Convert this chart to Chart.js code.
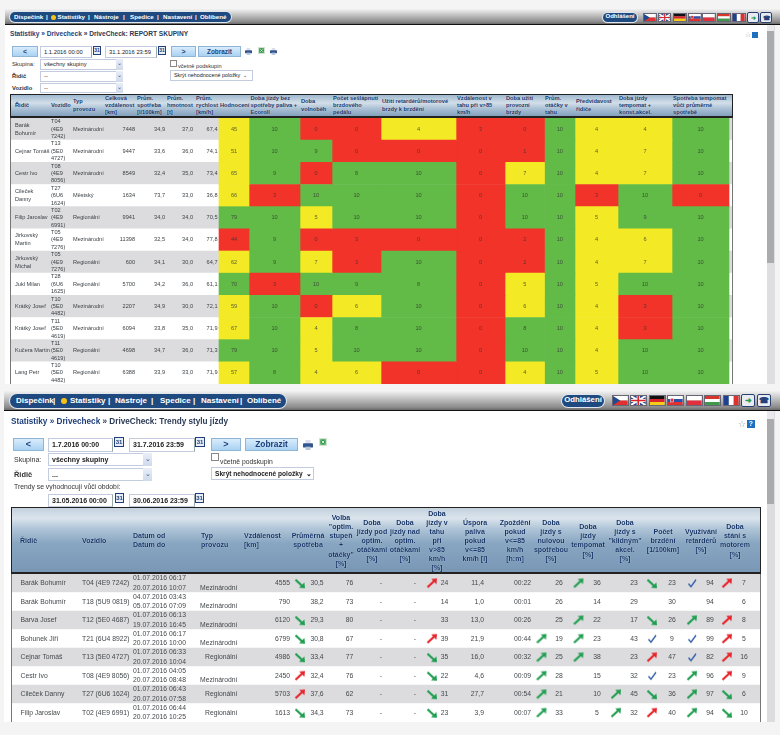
<!DOCTYPE html>
<html lang="cs">
<head>
<meta charset="utf-8">
<title>DriveCheck</title>
<script src="https://cdn.jsdelivr.net/npm/chart.js@4"></script>
<style>
  html, body { margin: 0; padding: 0; background: #f4f4f4; }
  #page { position: relative; width: 780px; height: 735px; overflow: hidden; font-family: "Liberation Sans", sans-serif; filter: blur(0.25px); }
  #page > * { position: absolute; box-sizing: border-box; white-space: pre; }
  canvas { position: absolute; }
  .panel { background: #fff; }
  .bar { background: linear-gradient(#f2f2f2 0, #c8c8c8 35%, #8c8c8c 85%, #6a6a6a 100%); border-bottom: 1px solid #111; }
  .pill { background: #1f4a80; border-radius: 8px; box-shadow: 0 0 0 1px #dfe6ee; }
  .nav { color: #fff; font-weight: bold; }
  .btn { background: linear-gradient(#d9ecfb, #a9d2f3); border: 1px solid #8fb4d4; color: #1f3f7a; font-weight: bold; text-align: center; }
  .input { background: #fff; border: 1px solid #c3cbe0; border-right-color: #9aa; color: #222; font-weight: bold; padding-left: 3px; }
  .select { background: #fff; border: 1px solid #c3cbe0; color: #222; padding-left: 3px; }
  .arrow { background: linear-gradient(#e9eef7, #cfd9ea); color: #33558a; text-align: center; }
  .cal { background: #e8eef8; border: 1px solid #24407a; color: #24407a; font-weight: bold; text-align: center; }
  .label { color: #333; }
  .crumb { color: #2b3a55; font-weight: bold; }
  .head { background: linear-gradient(#9fb8ce 0, #d3dfe9 38%, #aec3d7 62%, #83a1bd 100%); border: 1px solid #222; border-width: 1px 1px 2px 1px; }
  .head2 { background: linear-gradient(#c3d1de 0, #dbe4ec 16%, #b0c5d8 32%, #88a6c1 55%, #7998b6 100%); border: 1px solid #222; border-width: 1px 1px 2px 1px; }
  .hcell { color: #143468; font-weight: bold; text-shadow: 0 0 1px rgba(255,255,255,0.7); }
  .vline { background: #777; width: 1px; }
</style>
</head>
<body>
<div id="page"></div>
<script>
// ===== DATA: REPORT SKUPINY =====
const topDrivers = ["Barák\nBohumír", "Cejnar Tomáš", "Cestr Ivo", "Cileček\nDanny", "Filip Jaroslav", "Jirkovský\nMartin", "Jirkovský\nMichal", "Jukl Milan", "Krátký Josef", "Krátký Josef", "Kučera Martin", "Lang Petr"];
const topVehicles = ["T04\n(4E9\n7242)", "T13\n(5E0\n4727)", "T08\n(4E9\n8056)", "T27\n(6U6\n1624)", "T02\n(4E9\n6991)", "T05\n(4E9\n7276)", "T05\n(4E9\n7276)", "T28\n(6U6\n1625)", "T10\n(5E0\n4482)", "T11\n(5E0\n4619)", "T11\n(5E0\n4619)", "T10\n(5E0\n4482)"];
const topTypes = ["Mezinárodní", "Mezinárodní", "Mezinárodní", "Městský", "Regionální", "Mezinárodní", "Regionální", "Regionální", "Mezinárodní", "Mezinárodní", "Regionální", "Regionální"];
const topDistance = ["7448", "9447", "8549", "1634", "9941", "11398", "600", "5700", "2207", "6094", "4698", "6388"];
const topConsumption = ["34,9", "33,6", "32,4", "73,7", "34,0", "32,5", "34,1", "34,2", "34,9", "33,8", "34,7", "33,9"];
const topWeight = ["37,0", "36,0", "35,0", "33,0", "34,0", "34,0", "30,0", "36,0", "30,0", "35,0", "36,0", "33,0"];
const topSpeed = ["67,4", "74,1", "73,4", "36,8", "70,5", "77,8", "64,7", "61,1", "72,1", "71,9", "71,3", "71,9"];

const scoreRating = [45, 51, 65, 66, 79, 44, 62, 70, 59, 67, 79, 57];
const scoreEcoroll = [10, 10, 9, 3, 10, 9, 9, 3, 10, 10, 10, 8];
const scoreIdle = [0, 9, 0, 10, 5, 0, 7, 10, 0, 4, 5, 4];
const scorePedal = [0, 0, 8, 10, 10, 3, 3, 9, 6, 8, 10, 6];
const scoreRetarder = [4, 0, 10, 10, 10, 0, 10, 8, 10, 10, 10, 0];
const scoreDistance = [3, 0, 0, 0, 0, 0, 0, 0, 0, 0, 0, 0];
const scoreBrakes = [0, 1, 7, 10, 10, 2, 2, 5, 6, 8, 10, 4];
const scoreRpm = [10, 10, 10, 10, 10, 10, 10, 10, 10, 10, 10, 10];
const scoreForesight = [4, 4, 4, 3, 5, 4, 4, 5, 4, 4, 4, 5];
const scoreCruise = [4, 7, 7, 10, 9, 6, 7, 10, 3, 3, 10, 10];
const scoreCruiseFuel = [10, 10, 10, 0, 10, 10, 10, 10, 10, 10, 10, 10];

const topHeaders = ["Řidič", "Vozidlo", "Typ\nprovozu", "Celková\nvzdálenost\n[km]", "Prům.\nspotřeba\n[l/100km]", "Prům.\nhmotnost\n[t]", "Prům.\nrychlost\n[km/h]", "Hodnocení", "Doba jízdy bez\nspotřeby paliva +\nEcoroll", "Doba\nvolnoběh", "Počet sešlápnutí\nbrzdového\npedálu", "Užití retardérů/motorové\nbrzdy k brzdění", "Vzdálenost v\ntahu při v>85\nkm/h", "Doba užití\nprovozní\nbrzdy", "Prům.\notáčky v\ntahu", "Předvídavost\nřidiče", "Doba jízdy\ntempomat +\nkonst.akcel.", "Spotřeba tempomat\nvůči průměrné\nspotřebě"];

// ===== DATA: TRENDY STYLU JIZDY =====
const trendDrivers = ["Barák Bohumír", "Barák Bohumír", "Barva Josef", "Bohunek Jiří", "Cejnar Tomáš", "Cestr Ivo", "Cileček Danny", "Filip Jaroslav"];
const trendVehicles = ["T04 (4E9 7242)", "T18 (5U9 0819)", "T12 (5E0 4687)", "T21 (6U4 8922)", "T13 (5E0 4727)", "T08 (4E9 8056)", "T27 (6U6 1624)", "T02 (4E9 6991)"];
const trendDates = ["01.07.2016 06:17\n20.07.2016 10:07", "04.07.2016 03:43\n05.07.2016 07:09", "01.07.2016 06:13\n19.07.2016 16:45", "01.07.2016 06:17\n20.07.2016 10:00", "01.07.2016 06:33\n20.07.2016 10:04", "01.07.2016 04:05\n20.07.2016 08:48", "01.07.2016 06:43\n20.07.2016 07:58", "01.07.2016 06:44\n20.07.2016 10:25"];
const trendTypes = ["\nMezinárodní", "\nMezinárodní", "\nMezinárodní", "\nMezinárodní", "Regionální", "\nMezinárodní", "Regionální", "Regionální"];
const trendDistance = ["4555", "790", "6120", "6799", "4986", "2450", "5703", "1613"];
const trendConsumption = ["30,5", "38,2", "29,3", "30,8", "33,4", "32,4", "37,6", "34,3"];
const trendOptimal = ["76", "73", "80", "67", "77", "76", "62", "73"];
const trendBelow = ["-", "-", "-", "-", "-", "-", "-", "-"];
const trendAbove = ["-", "-", "-", "-", "-", "-", "-", "-"];
const trendOver85 = ["24", "14", "33", "39", "35", "22", "31", "23"];
const trendSaving = ["11,4", "1,0", "13,0", "21,9", "16,0", "4,6", "27,7", "3,9"];
const trendDelay = ["00:22", "00:01", "00:26", "00:44", "00:32", "00:09", "00:54", "00:07"];
const trendZeroFuel = ["26", "26", "25", "19", "25", "28", "21", "33"];
const trendCruise = ["36", "14", "22", "23", "38", "15", "10", "5"];
const trendCalm = ["23", "29", "17", "43", "23", "32", "45", "32"];
const trendBraking = ["23", "30", "26", "9", "47", "23", "36", "40"];
const trendRetarder = ["94", "94", "89", "99", "82", "96", "97", "94"];
const trendStanding = ["7", "6", "8", "5", "16", "9", "6", "10"];

// trend marks: d = falling green, u = rising red, g = rising green, c = blue tick, "" = none
const marksConsumption = ["d", "", "d", "d", "d", "u", "u", "d"];
const marksOver85 = ["u", "", "", "u", "d", "d", "d", "d"];
const marksZeroFuel = ["", "", "", "g", "g", "g", "g", "g"];
const marksCruise = ["g", "", "g", "g", "g", "", "", ""];
const marksCalm = ["", "", "", "", "", "", "g", "g"];
const marksBraking = ["d", "", "d", "c", "u", "c", "d", "u"];
const marksRetarder = ["c", "", "g", "c", "c", "g", "g", "g"];
const marksStanding = ["u", "", "u", "u", "u", "u", "d", "d"];

const trendHeaders = ["Řidič", "Vozidlo", "Datum od\nDatum do", "Typ\nprovozu", "Vzdálenost\n[km]", "Průměrná\nspotřeba", "Volba\n\"optim.\nstupeň\n+\notáčky\"\n[%]", "Doba\njízdy pod\noptim.\notáčkami\n[%]", "Doba\njízdy nad\noptim.\notáčkami\n[%]", "Doba\njízdy v\ntahu\npři\nv>85\nkm/h\n[%]", "Úspora\npaliva\npokud\nv<=85\nkm/h [l]", "Zpoždění\npokud\nv<=85\nkm/h\n[h:m]", "Doba\njízdy s\nnulovou\nspotřebou\n[%]", "Doba\njízdy\ntempomat\n[%]", "Doba\njízdy s\n\"klidným\"\nakcel.\n[%]", "Počet\nbrzdění\n[1/100km]", "Využívání\nretardérů\n[%]", "Doba\nstání s\nmotorem\n[%]"];

// ===== LAYOUT (page pixels) =====
const topEdges = [10, 50, 72, 104, 136, 166, 195, 219, 249, 300, 332, 381, 456, 505, 544.5, 575, 618, 672, 729, 733];
const TOP_FONT = '5.6px "Liberation Sans"';
const TREND_FONT = '6.8px "Liberation Sans"';
const RED = "#f2332a", YELLOW = "#f3ea25", GREEN = "#62bb47";
const page = document.getElementById("page");

// ===== UTILITY FUNCTIONS =====
function put(cls, x, y, w, h, text, style) {
  const d = document.createElement("div");
  d.className = cls;
  d.style.left = x + "px";
  d.style.top = y + "px";
  if (w != null) d.style.width = w + "px";
  if (h != null) { d.style.height = h + "px"; d.style.lineHeight = (h - 2) + "px"; }
  if (text) d.textContent = text;
  if (style) d.style.cssText += style;
  page.appendChild(d);
  return d;
}

function svg(x, y, w, h, inner, view, frame) {
  const d = put("", x, y, w, h);
  const border = frame === false ? "" : "border:1px solid #667;box-sizing:border-box";
  d.innerHTML = `<svg width="${w}" height="${h}" viewBox="${view || "0 0 18 12"}" preserveAspectRatio="none" style="display:block;${border}">${inner}</svg>`;
}

const FLAGS = [
  '<rect width="18" height="6" fill="#fff"/><rect y="6" width="18" height="6" fill="#e03030"/><path d="M0 0L9 6L0 12Z" fill="#1f4a90"/>',
  '<rect width="18" height="12" fill="#2a4a90"/><path d="M0 0L18 12M18 0L0 12" stroke="#fff" stroke-width="2.5"/><path d="M9 0V12M0 6H18" stroke="#fff" stroke-width="4"/><path d="M9 0V12M0 6H18" stroke="#d8242a" stroke-width="2"/>',
  '<rect width="18" height="4" fill="#111"/><rect y="4" width="18" height="4" fill="#d8242a"/><rect y="8" width="18" height="4" fill="#f5cc1a"/>',
  '<rect width="18" height="4" fill="#fff"/><rect y="4" width="18" height="4" fill="#2a50a8"/><rect y="8" width="18" height="4" fill="#e03030"/><rect x="3" y="3" width="4" height="5" fill="#e03030" stroke="#fff" stroke-width=".6"/>',
  '<rect width="18" height="6" fill="#fff"/><rect y="6" width="18" height="6" fill="#e03040"/>',
  '<rect width="18" height="4" fill="#d8362a"/><rect y="4" width="18" height="4" fill="#fff"/><rect y="8" width="18" height="4" fill="#3e9a4a"/>',
  '<rect width="6" height="12" fill="#1f3f90"/><rect x="6" width="6" height="12" fill="#fff"/><rect x="12" width="6" height="12" fill="#e03030"/>'
];
const PRINT_ICON = '<rect x="3" y="0" width="6" height="4" fill="#dde"/><rect x="0" y="4" width="12" height="5" rx="1" fill="#33558f"/><rect x="3" y="8" width="6" height="4" fill="#b8c6dc"/>';
const EXCEL_ICON = '<rect width="12" height="12" fill="#cfe3cf"/><rect x="2" y="2" width="8" height="8" fill="#2f9a4a"/><path d="M4 4L8 8M8 4L4 8" stroke="#fff" stroke-width="1.2"/>';

function navBar(cfg) {
  put("bar", cfg.left, cfg.top, 780 - cfg.left, cfg.bottom - cfg.top);
  put("pill", cfg.pill[0], cfg.pill[1], cfg.pill[2], cfg.pill[3]);
  cfg.items.forEach(([text, x]) => put("nav", x, cfg.textY, null, null, text, `font-size:${cfg.size}px;line-height:${cfg.size + 2}px;`));
  put("", cfg.dot[0], cfg.dot[1], cfg.dot[2], cfg.dot[2], "", "background:#f6c21a;border-radius:50%;");
  put("pill", cfg.logout[0], cfg.logout[1], cfg.logout[2], cfg.logout[3], "Odhlášení", `color:#fff;font-weight:bold;text-align:center;font-size:${cfg.size - 0.2}px;`);
  cfg.flags.forEach((x, i) => svg(x, cfg.flagY, cfg.flagW, cfg.flagH, FLAGS[i]));
  cfg.tools.forEach(([x, c, t]) => put("", x, cfg.flagY - 1, cfg.toolW, cfg.flagH + 2, t, `background:#e8ecf2;border:1px solid #2a4070;border-radius:2px;color:${c};font-weight:bold;text-align:center;font-size:${cfg.size}px;`));
}

function headerCells(labels, cols, size, lineH, y, h) {
  labels.forEach((label, i) => {
    const c = cols[i];
    const n = label.split("\n").length;
    const style = `font-size:${size}px;line-height:${lineH}px;text-align:${c[1]};`;
    const top = y + (h - n * lineH) / 2 + (c[2] || 0);
    if (c[1] === "center") put("hcell", c[0] - 40, top, 80, null, label, style);
    else put("hcell", c[0], top, null, null, label, style);
  });
}

function scoreColor(value, green, yellow) {
  if (value >= green) return GREEN;
  return value >= yellow ? YELLOW : RED;
}

// draws the table texts at scale positions
function cellTextPlugin(columns) {
  return {
    id: "cellText",
    afterDatasetsDraw(chart) {
      const { ctx, scales: { x, y } } = chart;
      ctx.save();
      ctx.textBaseline = "middle";
      columns.forEach(col => {
        ctx.font = col.font;
        ctx.fillStyle = col.color;
        ctx.textAlign = col.align;
        col.values.forEach((value, row) => {
          const lines = String(value).split("\n");
          const cy = y.getPixelForValue(row);
          lines.forEach((line, n) => {
            ctx.fillText(line, x.getPixelForValue(col.at), cy + (n - (lines.length - 1) / 2) * col.lineH);
          });
        });
      });
      ctx.restore();
    }
  };
}

function makeChart(left, top, width, height, xMin, xMax, labels, datasets, columns) {
  const canvas = document.createElement("canvas");
  canvas.width = width;
  canvas.height = height;
  canvas.style.left = left + "px";
  canvas.style.top = top + "px";
  page.appendChild(canvas);
  return new Chart(canvas, {
    type: "bar",
    data: { labels, datasets },
    plugins: [cellTextPlugin(columns)],
    options: {
      indexAxis: "y",
      responsive: false,
      animation: false,
      devicePixelRatio: 1,
      layout: { padding: 0, autoPadding: false },
      plugins: { legend: { display: false }, tooltip: { enabled: false } },
      scales: {
        x: { type: "linear", min: xMin, max: xMax, display: false },
        y: { type: "category", offset: true, display: false }
      }
    }
  });
}

function zebra(rows, xFrom, xTo) {
  return {
    data: rows.map(() => [xFrom, xTo]),
    backgroundColor: rows.map((_, i) => (i % 2 ? "#ffffff" : "#dcdcdf")),
    grouped: false, barPercentage: 1, categoryPercentage: 1, order: 5
  };
}

// ===== ARROW IMAGES =====
function arrowImage(kind) {
  const c = document.createElement("canvas");
  c.width = 12; c.height = 12;
  const g = c.getContext("2d");
  if (kind === "c") {
    g.strokeStyle = "#2a5aa8"; g.lineWidth = 1.3;
    g.beginPath(); g.moveTo(2.5, 6.5); g.lineTo(5, 9.5); g.lineTo(10, 2.5); g.stroke();
    return c;
  }
  const color = kind === "u" ? "#e8242a" : "#1f9e4f";
  g.strokeStyle = color; g.fillStyle = color; g.lineWidth = 2.2;
  g.beginPath();
  if (kind === "d") {
    g.moveTo(1.5, 2.5); g.lineTo(8, 8.5); g.stroke();
    g.beginPath(); g.moveTo(11, 11); g.lineTo(10.4, 5.2); g.lineTo(5, 10.4); g.fill();
  } else {
    g.moveTo(1.5, 10); g.lineTo(8, 4); g.stroke();
    g.beginPath(); g.moveTo(11, 1.2); g.lineTo(5.2, 1.8); g.lineTo(10.4, 7); g.fill();
  }
  return c;
}
const ARROWS = { d: arrowImage("d"), u: arrowImage("u"), g: arrowImage("g"), c: arrowImage("c") };

function markDataset(marks, at) {
  return {
    type: "scatter",
    data: marks.map((_, i) => ({ x: at, y: i })),
    pointStyle: marks.map(m => ARROWS[m] || "circle"),
    pointRadius: marks.map(m => (m ? 6 : 0)),
    order: 1
  };
}

// ===== PAGE: TOP PANEL =====
put("panel", 5, 24, 762, 360);
navBar({
  left: 5, top: 9, bottom: 25, pill: [10, 12, 221, 10], textY: 13, size: 6.2,
  items: [["Dispečink", 14], ["|", 46], ["Statistiky", 57.5], ["|", 88], ["Nástroje", 94], ["|", 123], ["Spedice", 130], ["|", 157], ["Nastavení", 163], ["|", 195], ["Oblíbené", 200]],
  dot: [50.5, 14.5, 5], logout: [603, 13, 34, 9],
  flags: [643, 657.5, 673, 688, 702, 717, 732], flagY: 13, flagW: 13.5, flagH: 9,
  tools: [[747, "#2a9a4a", "➜"], [760, "#24407a", "☎"]], toolW: 12
});
put("crumb", 10, 29.5, null, null, "", "font-size:6.6px;line-height:8px;").innerHTML = '<span style="color:#1f3f7a">Statistiky » Drivecheck</span> » DriveCheck: REPORT SKUPINY';
put("btn", 12, 46, 26, 11, "<", "font-size:7px;");
put("input", 40, 46, 52, 12, "1.1.2016 00:00", "font-size:5.8px;font-weight:normal;");
put("cal", 93, 46, 8, 9, "31", "font-size:5px;line-height:7px;");
put("input", 105, 46, 52, 12, "31.1.2016 23:59", "font-size:5.8px;font-weight:normal;");
put("cal", 158, 46, 8, 9, "31", "font-size:5px;line-height:7px;");
put("btn", 171, 46, 25, 11, ">", "font-size:7px;");
put("btn", 198, 46, 43, 11, "Zobrazit", "font-size:6.4px;");
svg(245, 48, 7, 7, PRINT_ICON, "0 0 12 12", false);
svg(258, 47, 7, 7, EXCEL_ICON, "0 0 12 12", false);
svg(270, 48, 7, 7, PRINT_ICON, "0 0 12 12", false);
put("label", 12, 60, null, null, "Skupina:", "font-size:5.8px;line-height:8px;");
put("select", 40, 59, 83, 11, "všechny skupiny", "font-size:5.8px;");
put("arrow", 116, 59, 7, 11, "⌄", "font-size:6px;");
put("label", 12, 72, null, null, "Řidič", "font-size:5.8px;line-height:8px;font-weight:bold;");
put("select", 40, 71, 83, 11, "--", "font-size:5.8px;");
put("arrow", 116, 71, 7, 11, "⌄", "font-size:6px;");
put("label", 12, 84, null, null, "Vozidlo", "font-size:5.8px;line-height:8px;font-weight:bold;");
put("select", 40, 83, 83, 10, "--", "font-size:5.8px;");
put("arrow", 116, 83, 7, 10, "⌄", "font-size:6px;");
put("", 170, 59.5, 7, 7, "", "border:1px solid #888;background:#fff;");
put("label", 178, 62, null, null, "včetně podskupin", "font-size:5.6px;line-height:8px;");
put("select", 170, 70, 83, 11, "Skrýt nehodnocené položky  ⌄", "font-size:5.4px;");

put("head", 10, 94, 723, 24);
headerCells(topHeaders, [[15, "left"], [51, "left"], [73, "left"], [105, "left"], [137, "left"], [167, "left"], [196, "left"], [220, "left"], [250.5, "left"], [301, "left"], [333, "left"], [382, "left"], [457, "left"], [506, "left"], [545, "left"], [576, "left"], [619, "left"], [673, "left"]], 5.7, 7.4, 94.5, 22.5);

// ===== CHART: HEAT TABLE =====
const scoreColumns = [
  { values: scoreRating, green: 70, yellow: 45 },
  { values: scoreEcoroll, green: 8, yellow: 4 },
  { values: scoreIdle, green: 8, yellow: 4 },
  { values: scorePedal, green: 8, yellow: 4 },
  { values: scoreRetarder, green: 8, yellow: 4 },
  { values: scoreDistance, green: 8, yellow: 4 },
  { values: scoreBrakes, green: 8, yellow: 4 },
  { values: scoreRpm, green: 8, yellow: 4 },
  { values: scoreForesight, green: 8, yellow: 4 },
  { values: scoreCruise, green: 8, yellow: 4 },
  { values: scoreCruiseFuel, green: 8, yellow: 4 }
];
const heatSets = scoreColumns.map((col, i) => ({
  data: col.values.map(() => [topEdges[7 + i], topEdges[8 + i]]),
  backgroundColor: col.values.map(v => scoreColor(v, col.green, col.yellow)),
  grouped: false, barPercentage: 1, categoryPercentage: 1, order: 2
}));
const TOP_INK = "#3c4246";
const topText = [
  { values: topDrivers, at: 15, align: "left", font: TOP_FONT, color: TOP_INK, lineH: 8 },
  { values: topVehicles, at: 51, align: "left", font: TOP_FONT, color: TOP_INK, lineH: 7.4 },
  { values: topTypes, at: 73, align: "left", font: TOP_FONT, color: TOP_INK, lineH: 7 },
  { values: topDistance, at: 135, align: "right", font: TOP_FONT, color: TOP_INK, lineH: 7 },
  { values: topConsumption, at: 165, align: "right", font: TOP_FONT, color: TOP_INK, lineH: 7 },
  { values: topWeight, at: 193, align: "right", font: TOP_FONT, color: TOP_INK, lineH: 7 },
  { values: topSpeed, at: 217.5, align: "right", font: TOP_FONT, color: TOP_INK, lineH: 7 }
].concat(scoreColumns.map((col, i) => ({
  values: col.values, at: (topEdges[7 + i] + topEdges[8 + i]) / 2, align: "center", font: TOP_FONT, color: "rgba(50,55,50,0.8)", lineH: 7
})));
makeChart(10, 118, 723, 266, 10, 733, topDrivers, [zebra(topDrivers, 10, 733)].concat(heatSets), topText);
put("vline", 10, 118, null, 266);
put("vline", 732, 118, null, 266);

// scrollbar + icons
put("", 767, 25, 8, 359, "", "background:#dfdfe1;");
put("", 767, 25, 7, 6, "", "background:#e9e9ee;");
put("", 767, 31, 7, 232, "", "background:#a9abae;");
put("", 745, 31, null, null, "☆", "font-size:7px;line-height:9px;color:#99a;font-family:'DejaVu Sans';");
put("", 752, 32, 6, 6, "", "background:#1f6fc0;");

// ===== PAGE: BOTTOM PANEL =====
put("panel", 4, 410, 763, 312);
navBar({
  left: 4, top: 391, bottom: 411, pill: [10, 394, 276, 14], textY: 396, size: 8,
  items: [["Dispečink", 16], ["|", 53], ["Statistiky", 70], ["|", 108], ["Nástroje", 115], ["|", 151], ["Spedice", 160], ["|", 193], ["Nastavení", 201], ["|", 240], ["Oblíbené", 247]],
  dot: [61, 397.5, 6], logout: [562, 395, 42, 12],
  flags: [612, 630, 649, 667, 686, 704, 723], flagY: 395, flagW: 16.5, flagH: 11,
  tools: [[741, "#2a9a4a", "➜"], [757, "#24407a", "☎"]], toolW: 14
});
put("crumb", 11, 417, null, null, "", "font-size:8.2px;line-height:10px;").innerHTML = '<span style="color:#1f3f7a">Statistiky » Drivecheck</span> » DriveCheck: Trendy stylu jízdy';
put("btn", 13, 438, 31, 13, "<", "font-size:9px;");
put("input", 48, 438, 65, 14, "1.7.2016 00:00", "font-size:7px;");
put("cal", 114, 437, 10, 10, "31", "font-size:6px;line-height:8px;");
put("input", 129, 438, 66, 14, "31.7.2016 23:59", "font-size:7px;");
put("cal", 195, 437, 10, 10, "31", "font-size:6px;line-height:8px;");
put("btn", 211, 438, 30, 13, ">", "font-size:9px;");
put("btn", 245, 438, 53, 13, "Zobrazit", "font-size:8.4px;");
svg(303, 440, 10, 10, PRINT_ICON, "0 0 12 12", false);
svg(319, 438, 8, 8, EXCEL_ICON, "0 0 12 12", false);
put("label", 14, 455, null, null, "Skupina:", "font-size:7px;line-height:9px;");
put("select", 48, 453, 104, 13, "všechny skupiny", "font-size:7px;font-weight:bold;");
put("arrow", 143, 453, 9, 13, "⌄", "font-size:7px;");
put("label", 14, 470, null, null, "Řidič", "font-size:7.4px;line-height:9px;font-weight:bold;");
put("select", 48, 468, 104, 13, "...", "font-size:7px;font-weight:bold;");
put("arrow", 143, 468, 9, 13, "⌄", "font-size:7px;");
put("label", 14, 482, null, null, "Trendy se vyhodnocují vůči období:", "font-size:6.8px;line-height:9px;");
put("input", 48, 494, 65, 13, "31.05.2016 00:00", "font-size:7px;");
put("cal", 115, 493, 9, 10, "31", "font-size:6px;line-height:8px;");
put("input", 129, 494, 66, 13, "30.06.2016 23:59", "font-size:7px;");
put("cal", 195, 493, 9, 10, "31", "font-size:6px;line-height:8px;");
put("", 211, 453, 8, 8, "", "border:1px solid #888;background:#fff;");
put("label", 220, 457, null, null, "včetně podskupin", "font-size:6.8px;line-height:9px;");
put("select", 211, 467, 103, 13, "Skrýt nehodnocené položky  ⌄", "font-size:6.6px;font-weight:bold;");

put("head2", 11, 507, 750, 67);
headerCells(trendHeaders, [[20, "left", 0], [82, "left", 0], [133, "left", 0], [201, "left", 0], [244, "left", 0], [308, "center", 0], [341, "center", 0], [372, "center", 0], [405, "center", 0], [437, "center", 0], [475, "center", 0], [515, "center", 0], [551, "center", 0], [588, "center", 0], [625, "center", 0], [663, "center", 0], [701, "center", 0], [735, "center", 0]], 7, 9.1, 507, 67);

// ===== CHART: TRENDS TABLE =====
const INK = "#44494c";
const trendText = [
  { values: trendDrivers, at: 20.5, align: "left" },
  { values: trendVehicles, at: 82, align: "left" },
  { values: trendDates, at: 133, align: "left" },
  { values: trendTypes, at: 237.5, align: "right" },
  { values: trendDistance, at: 290, align: "right" },
  { values: trendConsumption, at: 317, align: "center" },
  { values: trendOptimal, at: 349.5, align: "center" },
  { values: trendBelow, at: 381, align: "center" },
  { values: trendAbove, at: 415, align: "center" },
  { values: trendOver85, at: 444.5, align: "center" },
  { values: trendSaving, at: 484, align: "right" },
  { values: trendDelay, at: 531, align: "right" },
  { values: trendZeroFuel, at: 559, align: "center" },
  { values: trendCruise, at: 597, align: "center" },
  { values: trendCalm, at: 634, align: "center" },
  { values: trendBraking, at: 672, align: "center" },
  { values: trendRetarder, at: 710, align: "center" },
  { values: trendStanding, at: 744, align: "center" }
].map(c => Object.assign({ font: TREND_FONT, color: INK, lineH: 9.4 }, c));
const markSets = [
  markDataset(marksConsumption, 300), markDataset(marksOver85, 432), markDataset(marksZeroFuel, 541.5),
  markDataset(marksCruise, 578.5), markDataset(marksCalm, 616), markDataset(marksBraking, 652),
  markDataset(marksRetarder, 692), markDataset(marksStanding, 727)
];
makeChart(11, 574, 750, 148, 11, 761, trendDrivers, [zebra(trendDrivers, 11, 761)].concat(markSets), trendText);
put("vline", 11, 574, null, 148);
put("vline", 760, 574, null, 148);

// scrollbar + icons
put("", 767, 411, 8, 311, "", "background:#dcdcde;");
put("", 767, 411, 7, 8, "", "background:#e9e9ee;");
put("", 767, 419, 7, 85, "", "background:#a9abae;");
put("", 738, 419, null, null, "☆", "font-size:9px;line-height:11px;color:#99a;font-family:'DejaVu Sans';");
put("", 747, 420, 8, 8, "?", "background:#1f6fc0;color:#fff;font-size:7px;font-weight:bold;text-align:center;line-height:8px;");
</script>
</body>
</html>
